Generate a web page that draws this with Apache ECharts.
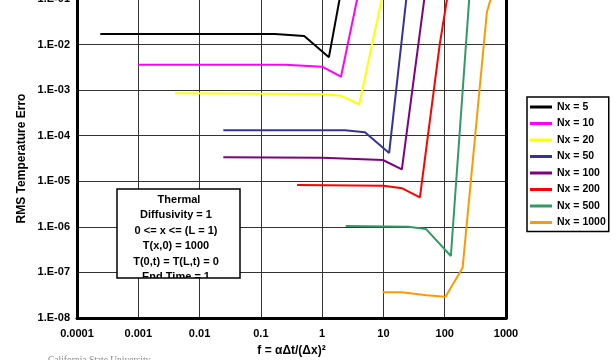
<!DOCTYPE html>
<html>
<head>
<meta charset="utf-8">
<script src="https://cdn.jsdelivr.net/npm/echarts@6/dist/echarts.min.js"></script>
<style>
html, body { margin: 0; padding: 0; background: #fff; }
#chart { width: 616px; height: 360px; }
</style>
</head>
<body>
<div id="chart"></div>
<script>
// tick labels
const xTickLabels = ['0.0001', '0.001', '0.01', '0.1', '1', '10', '100', '1000'];
const yTickLabels = ['1.E-08', '1.E-07', '1.E-06', '1.E-05', '1.E-04', '1.E-03', '1.E-02', '1.E-01'];

// series names
const seriesNames = ['Nx = 5', 'Nx = 10', 'Nx = 20', 'Nx = 50', 'Nx = 100', 'Nx = 200', 'Nx = 500', 'Nx = 1000'];

// [f, rms error]
const nx5 = [[2.4e-4, 0.0171], [0.17, 0.0171], [0.51, 0.0154], [1.29, 0.0053], [2.6, 0.89]];
const nx10 = [[0.001, 0.0036], [0.25, 0.0036], [1.0, 0.00327], [2.03, 0.00197], [4.06, 0.173]];
const nx20 = [[0.004, 0.00085], [0.92, 0.00082], [2.03, 0.000755], [4.03, 0.00049], [16, 2.77]];
const nx50 = [[0.0244, 0.000131], [2.36, 0.000131], [4.99, 0.000119], [12.4, 4.18e-5], [24.8, 0.18]];
const nx100 = [[0.0244, 3.36e-5], [1.0, 3.3e-5], [9.8, 2.93e-5], [20, 1.83e-5], [80, 25.7]];
const nx200 = [[0.39, 8.3e-6], [10, 8.0e-6], [20.3, 7.0e-6], [39.4, 4.45e-6], [83.5, 0.0107], [167, 3.5]];
const nx500 = [[2.42, 1.04e-6], [25.4, 1.01e-6], [49.3, 9.0e-7], [126, 2.29e-7], [251, 0.1], [502, 100]];
const nx1000 = [[9.7, 3.66e-8], [19.8, 3.66e-8], [50.7, 3.15e-8], [103, 2.93e-8], [196, 1.27e-7], [488, 0.0518], [900, 0.87]];

const seriesData = [nx5, nx10, nx20, nx50, nx100, nx200, nx500, nx1000];
const seriesColors = ['#000000', '#ff00ff', '#ffff00', '#333399', '#800080', '#ff0000', '#339966', '#ff9900'];

// text box
const infoLines = ['Thermal', 'Diffusivity = 1', '0 <= x <= (L = 1)', 'T(x,0) = 1000', 'T(0,t) = T(L,t) = 0', 'End Time = 1'];

const FONT = '"Liberation Sans", Arial, sans-serif';

const chart = echarts.init(document.getElementById('chart'));

const series = seriesNames.map(function (name, i) {
    return {
        name: name,
        type: 'line',
        data: seriesData[i],
        showSymbol: false,
        symbol: 'none',
        clip: true,
        color: seriesColors[i],
        lineStyle: { color: seriesColors[i], width: 2 },
        z: 3
    };
});

const option = {
    animation: false,
    backgroundColor: '#fff',
    grid: {
        left: 77,
        right: 110,
        top: -1,
        bottom: 42,
        show: false,
        containLabel: false,
        outerBoundsMode: 'none'
    },
    legend: {
        orient: 'vertical',
        left: 527,
        top: 97,
        data: seriesNames,
        icon: 'rect',
        itemWidth: 22,
        itemHeight: 3,
        itemGap: 4.5,
        padding: [4, 3, 3, 3],
        borderColor: '#000',
        borderWidth: 1.5,
        borderRadius: 0,
        backgroundColor: '#fff',
        selectedMode: false,
        textStyle: {
            fontFamily: FONT,
            fontWeight: 'bold',
            fontSize: 10.5,
            lineHeight: 12,
            color: '#000'
        }
    },
    xAxis: {
        type: 'log',
        logBase: 10,
        min: 0.0001,
        max: 1000,
        name: 'f = αΔt/(Δx)²',
        nameLocation: 'middle',
        nameGap: 27,
        nameMoveOverlap: false,
        nameTextStyle: {
            fontFamily: FONT,
            fontWeight: 'bold',
            fontSize: 12,
            color: '#000'
        },
        axisLine: { show: true, onZero: false, lineStyle: { color: '#000', width: 3 } },
        axisTick: { show: false },
        minorTick: { show: false },
        splitLine: { show: true, lineStyle: { color: '#333', width: 1 } },
        axisLabel: {
            margin: 10,
            showMinLabel: true,
            showMaxLabel: true,
            fontFamily: FONT,
            fontWeight: 'bold',
            fontSize: 11,
            color: '#000',
            formatter: function (v) {
                return xTickLabels[Math.round(Math.log10(v)) + 4];
            }
        }
    },
    yAxis: [{
        type: 'log',
        logBase: 10,
        min: 1e-8,
        max: 0.1,
        name: 'RMS Temperature Erro',
        nameLocation: 'middle',
        nameGap: 49,
        nameMoveOverlap: false,
        nameTextStyle: {
            fontFamily: FONT,
            fontWeight: 'bold',
            fontSize: 12,
            color: '#000'
        },
        axisLine: { show: true, onZero: false, lineStyle: { color: '#000', width: 3 } },
        axisTick: { show: false },
        minorTick: { show: false },
        splitLine: { show: true, lineStyle: { color: '#333', width: 1 } },
        axisLabel: {
            margin: 7,
            showMinLabel: true,
            showMaxLabel: true,
            fontFamily: FONT,
            fontWeight: 'bold',
            fontSize: 11,
            color: '#000',
            formatter: function (v) {
                return yTickLabels[Math.round(Math.log10(v)) + 8];
            }
        }
    }, {
        // right frame line
        type: 'value',
        position: 'right',
        min: 0,
        max: 1,
        axisLine: { show: true, onZero: false, lineStyle: { color: '#000', width: 3 } },
        axisTick: { show: false },
        axisLabel: { show: false },
        splitLine: { show: false }
    }],
    series: series
};

chart.setOption(option);

// info box and footer text
const boxX = 117, boxY = 189, boxW = 123, boxH = 89;
const elements = [];
elements.push({
    type: 'rect',
    shape: { x: boxX, y: boxY, width: boxW, height: boxH },
    style: { fill: '#fff' },
    z: 100
});
infoLines.forEach(function (t, i) {
    elements.push({
        type: 'text',
        x: i === 0 ? 179 : 176,
        y: 199.5 + i * 15.5,
        style: {
            text: t,
            fill: '#000',
            font: 'bold 11px ' + FONT,
            align: 'center',
            verticalAlign: 'middle'
        },
        z: 101
    });
});
// hide the part of the last line that falls below the box, keep the 0.01 gridline
const gx = Math.round(chart.convertToPixel({ xAxisIndex: 0 }, 0.01));
elements.push({
    type: 'rect',
    shape: { x: 141, y: boxY + boxH, width: gx - 1 - 141, height: 7 },
    style: { fill: '#fff' },
    z: 102
});
elements.push({
    type: 'rect',
    shape: { x: gx + 1, y: boxY + boxH, width: 225 - gx, height: 7 },
    style: { fill: '#fff' },
    z: 102
});
elements.push({
    type: 'rect',
    shape: { x: boxX, y: boxY, width: boxW, height: boxH },
    style: { fill: null, stroke: '#000', lineWidth: 1.5 },
    z: 103
});
elements.push({
    type: 'text',
    x: 48,
    y: 355,
    style: {
        text: 'California State University',
        fill: '#888',
        font: '9.5px "Liberation Serif", serif',
        align: 'left',
        verticalAlign: 'top'
    },
    z: 100
});

chart.setOption({ graphic: { elements: elements } });
</script>
</body>
</html>
